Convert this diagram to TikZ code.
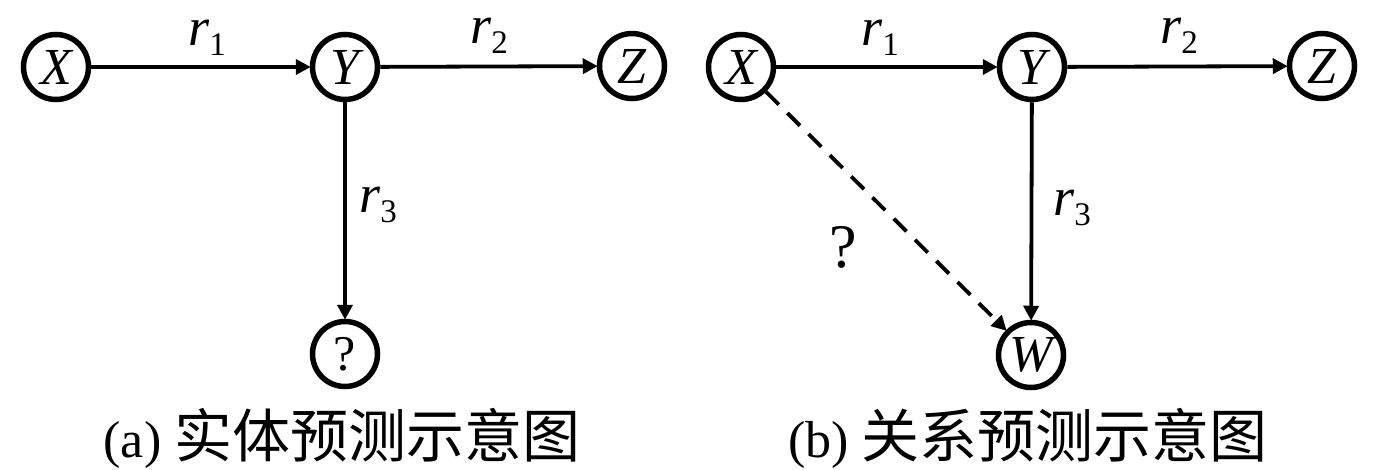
\documentclass[tikz,border=0pt]{standalone}
\usepackage{fontspec}
\setmainfont{Liberation Serif}
\newfontfamily\cjk{Noto Sans CJK SC}
\usetikzlibrary{arrows.meta}
\newcommand{\rlab}[1]{\textit{r}\raisebox{-10pt}{\fontsize{33}{33}\selectfont #1}}
\begin{document}
\begin{tikzpicture}[x=1pt,y=-1pt,
  ent/.style={circle,draw,line width=5.5pt,minimum size=65pt,inner sep=0pt,font=\fontsize{52}{52}\selectfont\itshape},
  rel/.style={line width=3.8pt,-{Triangle[length=15pt,width=15pt]},shorten >=-1pt},
  lab/.style={anchor=base,inner sep=0pt,font=\fontsize{54}{54}\selectfont},
  captext/.style={anchor=base,inner sep=0pt,font=\fontsize{52}{60}\selectfont}]
\useasboundingbox (0,0) rectangle (1378,469);
% (a)
\node[ent] (aX) at (56,67) {X};
\node[ent] (aY) at (345,67) {Y};
\node[ent] (aZ) at (632,66) {Z};
\node[ent,font=\fontsize{50}{50}\selectfont] (aQ) at (345,354) {?};
\draw[rel] (aX) -- (aY);
\draw[rel] (aY) -- (aZ);
\draw[rel] (aY) -- (aQ);
\node[lab] (ar1) at (207,45) {\rlab{1}};
\node[lab] (ar2) at (489,43) {\rlab{2}};
\node[lab] (ar3) at (378,212) {\rlab{3}};
\node[captext] (acap) at (342,457) {(a) {\cjk\fontsize{58}{60}\selectfont 实体预测示意图}};
% (b)
\node[ent] (bX) at (741,67) {X};
\node[ent] (bY) at (1032,67) {Y};
\node[ent] (bZ) at (1322,66) {Z};
\node[ent] (bW) at (1031,355) {W};
\draw[rel] (bX) -- (bY);
\draw[rel] (bY) -- (bZ);
\draw[rel] (bY) -- (bW);
\draw[rel,dash pattern=on 18pt off 12pt] (bX) -- (bW);
\node[lab] (br1) at (880,45) {\rlab{1}};
\node[lab] (br2) at (1179,43) {\rlab{2}};
\node[lab] (br3) at (1072,215) {\rlab{3}};
\node[lab,font=\fontsize{62}{62}\selectfont] (bq) at (843,267) {?};
\node[captext] (bcap) at (1028,457) {(b) {\cjk\fontsize{58}{60}\selectfont 关系预测示意图}};
\end{tikzpicture}
\end{document}
